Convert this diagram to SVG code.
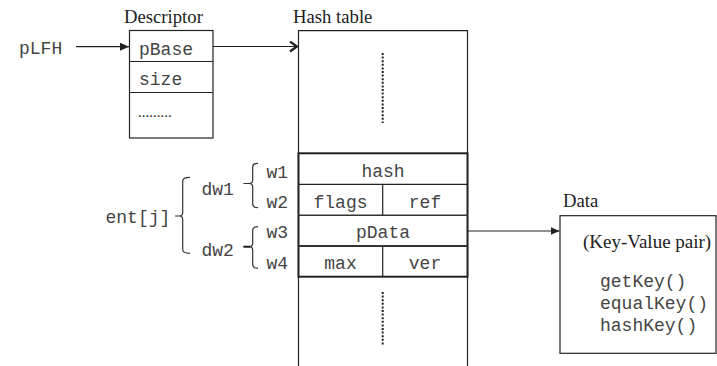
<svg xmlns="http://www.w3.org/2000/svg" width="717" height="366" viewBox="0 0 717 366">
  <style>
    .mono { font-family: "Liberation Mono", "Courier New", monospace; font-size: 18px; fill: #444; }
    .serif { font-family: "Liberation Serif", "Times New Roman", serif; font-size: 18.7px; fill: #222; }
    .box { fill: #fff; stroke: #222; stroke-width: 1.2; }
    .thin { fill: none; stroke: #222; stroke-width: 1.2; }
    .thick { fill: none; stroke: #333; stroke-width: 2; }
    .dots { fill: none; stroke: #222; stroke-width: 2; stroke-dasharray: 2 1.6; }
    .brace { fill: none; stroke: #333; stroke-width: 1.2; }
    .link { fill: none; stroke: #222; stroke-width: 1.2; }
  </style>
  <defs>
    <marker id="tri" markerWidth="10" markerHeight="8" refX="9" refY="4" orient="auto" markerUnits="userSpaceOnUse">
      <path d="M0,0 L9,4 L0,8 Z" fill="#222"/>
    </marker>
    <marker id="chev" markerWidth="12" markerHeight="12" refX="9" refY="6" orient="auto" markerUnits="userSpaceOnUse">
      <path d="M2,1 L9,6 L2,11" fill="none" stroke="#222" stroke-width="2.2"/>
    </marker>
  </defs>

  <rect width="717" height="366" fill="#fff"/>

  <!-- entry pointer label -->
  <g id="pLFH">
    <text class="mono" x="19" y="54">pLFH</text>
  </g>

  <!-- descriptor block -->
  <g id="descriptor">
    <text class="serif" x="124" y="23">Descriptor</text>
    <rect class="box" x="129.5" y="30.5" width="83.5" height="107.5"/>
    <line class="thin" x1="129.5" y1="61.5" x2="213" y2="61.5"/>
    <line class="thin" x1="129.5" y1="92.5" x2="213" y2="92.5"/>
    <text class="mono" x="139" y="55">pBase</text>
    <text class="mono" x="139" y="85">size</text>
    <text class="serif" x="138" y="117" style="font-size:15px">.........</text>
  </g>

  <!-- hash table column -->
  <g id="hashtable">
    <text class="serif" x="293" y="23">Hash table</text>
    <path class="thin" d="M298.5,370 V30.7 H467.5 V370"/>
    <line class="dots" x1="382.7" y1="53" x2="382.7" y2="123"/>
    <line class="dots" x1="382.7" y1="292" x2="382.7" y2="346"/>
  </g>

  <!-- one entry of the table -->
  <g id="entry">
    <rect class="box" x="298.5" y="153.3" width="169" height="123.4" style="stroke-width:2"/>
    <line class="thin" x1="298.5" y1="184.3" x2="467.5" y2="184.3"/>
    <line class="thick" x1="298.5" y1="215.3" x2="467.5" y2="215.3" style="stroke-width:1.5"/>
    <line class="thick" x1="298.5" y1="246" x2="467.5" y2="246" style="stroke-width:1.8"/>
    <line class="thin" x1="382.7" y1="184.3" x2="382.7" y2="215.3"/>
    <line class="thin" x1="382.7" y1="246" x2="382.7" y2="276.7"/>
    <text class="mono" x="383" y="177" text-anchor="middle">hash</text>
    <text class="mono" x="340.5" y="207.5" text-anchor="middle">flags</text>
    <text class="mono" x="425" y="207.5" text-anchor="middle">ref</text>
    <text class="mono" x="383" y="238" text-anchor="middle">pData</text>
    <text class="mono" x="340.5" y="269" text-anchor="middle">max</text>
    <text class="mono" x="425" y="269" text-anchor="middle">ver</text>
  </g>

  <!-- word / double-word labels with braces -->
  <g id="words">
    <text class="mono" x="266.5" y="178">w1</text>
    <text class="mono" x="266.5" y="207.5">w2</text>
    <text class="mono" x="266.5" y="238">w3</text>
    <text class="mono" x="266.5" y="268.5">w4</text>
    <path class="brace" d="M258,163.3 Q252.7,163.3 252.7,167 V180 Q252.7,183.5 249,183.5 H243.5 M249,183.5 Q252.7,183.5 252.7,187 V204 Q252.7,207.7 258,207.7"/>
    <path class="brace" d="M258,226.7 Q252.7,226.7 252.7,230.5 V243 Q252.7,246.7 249,246.7 H243.5 M249,246.7 Q252.7,246.7 252.7,250.5 V264.5 Q252.7,268.3 258,268.3"/>
    <line x1="243.5" y1="246.7" x2="250" y2="246.7" stroke="#222" stroke-width="2"/>
  </g>

  <g id="dwords">
    <text class="mono" x="201.5" y="194.5">dw1</text>
    <text class="mono" x="201.5" y="255.5">dw2</text>
    <path class="brace" d="M190,177.3 Q182.7,177.3 182.7,181 V212.5 Q182.7,216 179,216 H175 M179,216 Q182.7,216 182.7,219.5 V249.5 Q182.7,253.3 190,253.3"/>
  </g>

  <g id="entj">
    <text class="mono" x="105.5" y="222.5">ent[j]</text>
  </g>

  <!-- key-value record -->
  <g id="data">
    <text class="serif" x="563" y="207">Data</text>
    <rect class="box" x="560" y="215.7" width="156" height="137.6"/>
    <text class="serif" x="583" y="248" style="font-size:19px">(Key-Value pair)</text>
    <text class="mono" x="600" y="287">getKey()</text>
    <text class="mono" x="600" y="309">equalKey()</text>
    <text class="mono" x="600" y="331">hashKey()</text>
  </g>

  <!-- connectors -->
  <g id="connectors">
    <line class="link" x1="76" y1="46.7" x2="129" y2="46.7" marker-end="url(#tri)"/>
    <line class="link" x1="213" y1="46.5" x2="297" y2="46.5" marker-end="url(#chev)"/>
    <line class="link" x1="467.5" y1="231" x2="559.5" y2="231" marker-end="url(#tri)"/>
  </g>
</svg>
